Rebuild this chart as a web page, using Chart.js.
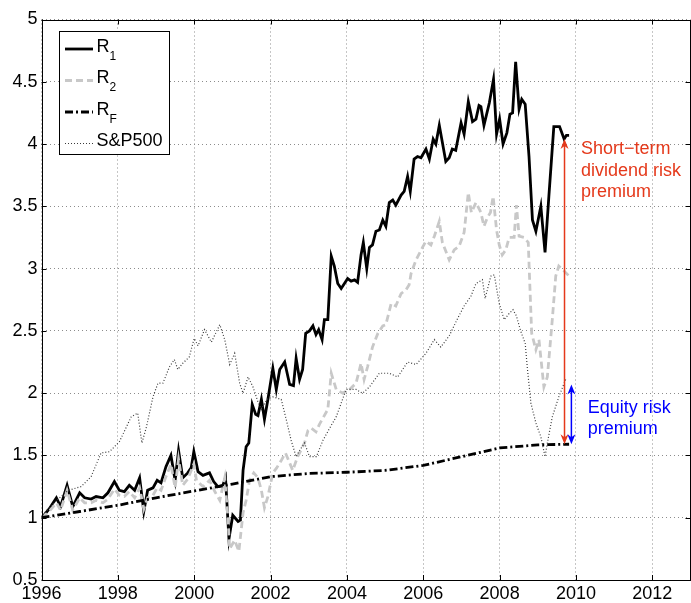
<!DOCTYPE html>
<html lang="en">
<head>
<meta charset="UTF-8">
<title>Dividend and equity risk premia</title>
<script src="https://cdn.jsdelivr.net/npm/chart.js@4.4.1/dist/chart.umd.min.js"></script>
<style>
  body { margin: 0; background: #fff; }
  #wrap { width: 691px; height: 603px; }
</style>
</head>
<body>
<div id="wrap"><canvas id="myChart"></canvas></div>
<script>
// R1: short-term dividend strategy
const r1Years = [1996.00, 1996.04, 1996.20, 1996.39, 1996.50, 1996.67, 1996.82, 1997.00, 1997.13, 1997.30,
  1997.43, 1997.61, 1997.74, 1997.91, 1998.04, 1998.17, 1998.30, 1998.44, 1998.57, 1998.68,
  1998.78, 1998.92, 1999.03, 1999.13, 1999.26, 1999.39, 1999.50, 1999.59, 1999.70, 1999.83,
  1999.92, 1999.99, 2000.10, 2000.23, 2000.40, 2000.51, 2000.62, 2000.75, 2000.82, 2000.91,
  2001.01, 2001.15, 2001.21, 2001.28, 2001.36, 2001.43, 2001.52, 2001.61, 2001.67, 2001.76,
  2001.84, 2001.93, 2002.06, 2002.15, 2002.24, 2002.37, 2002.50, 2002.60, 2002.67, 2002.76,
  2002.84, 2002.92, 2003.02, 2003.11, 2003.19, 2003.26, 2003.35, 2003.41, 2003.50, 2003.59,
  2003.67, 2003.76, 2003.85, 2004.02, 2004.11, 2004.20, 2004.28, 2004.37, 2004.43, 2004.52,
  2004.59, 2004.67, 2004.76, 2004.85, 2004.94, 2005.02, 2005.11, 2005.20, 2005.28, 2005.42,
  2005.50, 2005.59, 2005.66, 2005.76, 2005.85, 2005.94, 2006.07, 2006.16, 2006.26, 2006.33,
  2006.42, 2006.59, 2006.68, 2006.76, 2006.85, 2006.99, 2007.07, 2007.18, 2007.29, 2007.38,
  2007.46, 2007.51, 2007.59, 2007.73, 2007.84, 2007.92, 2008.00, 2008.09, 2008.19, 2008.27,
  2008.34, 2008.42, 2008.51, 2008.58, 2008.67, 2008.77, 2008.86, 2008.95, 2009.08, 2009.19,
  2009.29, 2009.42, 2009.57, 2009.69, 2009.75, 2009.82];
const r1Values = [1.00, 1.01, 1.07, 1.16, 1.09, 1.26, 1.09, 1.20, 1.16, 1.15,
  1.17, 1.16, 1.20, 1.29, 1.22, 1.21, 1.26, 1.22, 1.32, 1.05,
  1.22, 1.24, 1.30, 1.28, 1.41, 1.50, 1.30, 1.54, 1.32, 1.36,
  1.40, 1.53, 1.37, 1.34, 1.36, 1.29, 1.25, 1.26, 1.32, 0.83,
  1.02, 0.97, 0.98, 1.38, 1.57, 1.60, 1.91, 1.83, 1.82, 1.95,
  1.79, 1.95, 2.20, 2.03, 2.19, 2.25, 2.07, 2.06, 2.28, 2.11,
  2.19, 2.48, 2.50, 2.54, 2.47, 2.51, 2.43, 2.59, 2.59, 3.10,
  3.02, 2.88, 2.84, 2.92, 2.90, 2.91, 2.89, 3.11, 3.21, 3.00,
  3.17, 3.19, 3.30, 3.31, 3.39, 3.34, 3.53, 3.55, 3.51, 3.59,
  3.62, 3.74, 3.62, 3.88, 3.90, 3.89, 3.96, 3.88, 4.04, 4.00,
  4.15, 3.86, 3.89, 3.96, 3.95, 4.17, 4.08, 4.34, 4.18, 4.20,
  4.31, 4.30, 4.15, 4.33, 4.52, 4.08, 4.20, 4.00, 4.09, 4.24,
  4.25, 4.66, 4.28, 4.36, 4.32, 3.90, 3.39, 3.30, 3.50, 3.13,
  3.58, 4.14, 4.14, 4.04, 4.07, 4.07];

// R2: long-term dividend strategy
const r2Years = [1996.00, 1996.20, 1996.39, 1996.50, 1996.67, 1996.82, 1997.00, 1997.13, 1997.30, 1997.43,
  1997.61, 1997.74, 1997.91, 1998.04, 1998.17, 1998.30, 1998.44, 1998.57, 1998.68, 1998.78,
  1998.92, 1999.03, 1999.13, 1999.26, 1999.39, 1999.50, 1999.59, 1999.70, 1999.83, 1999.99,
  2000.06, 2000.23, 2000.40, 2000.54, 2000.67, 2000.80, 2000.88, 2000.93, 2001.06, 2001.17,
  2001.28, 2001.36, 2001.45, 2001.56, 2001.67, 2001.76, 2001.84, 2001.93, 2002.06, 2002.16,
  2002.28, 2002.39, 2002.50, 2002.58, 2002.71, 2002.89, 2002.98, 2003.06, 2003.19, 2003.28,
  2003.50, 2003.59, 2003.72, 2003.89, 2004.07, 2004.24, 2004.37, 2004.45, 2004.54, 2004.67,
  2004.81, 2004.94, 2005.02, 2005.16, 2005.28, 2005.42, 2005.55, 2005.63, 2005.68, 2005.81,
  2005.98, 2006.07, 2006.20, 2006.29, 2006.42, 2006.50, 2006.68, 2006.81, 2006.94, 2007.07,
  2007.18, 2007.26, 2007.38, 2007.51, 2007.59, 2007.68, 2007.76, 2007.83, 2007.92, 2007.99,
  2008.07, 2008.16, 2008.25, 2008.38, 2008.44, 2008.51, 2008.64, 2008.75, 2008.79, 2008.84,
  2008.95, 2009.03, 2009.16, 2009.25, 2009.38, 2009.47, 2009.55, 2009.66, 2009.82];
const r2Values = [1.00, 1.05, 1.12, 1.06, 1.22, 1.06, 1.16, 1.12, 1.12, 1.14,
  1.12, 1.15, 1.23, 1.18, 1.17, 1.21, 1.16, 1.24, 1.07, 1.16,
  1.18, 1.24, 1.22, 1.33, 1.43, 1.24, 1.47, 1.26, 1.31, 1.43,
  1.30, 1.25, 1.30, 1.21, 1.14, 1.32, 1.01, 0.75, 0.82, 0.73,
  1.04, 1.14, 1.30, 1.36, 1.32, 1.22, 1.08, 1.17, 1.36, 1.40,
  1.46, 1.52, 1.44, 1.38, 1.49, 1.60, 1.70, 1.72, 1.69, 1.75,
  1.87, 2.16, 2.03, 2.00, 2.03, 2.08, 2.24, 2.11, 2.21, 2.37,
  2.48, 2.54, 2.55, 2.72, 2.70, 2.80, 2.83, 2.87, 2.96, 3.07,
  3.17, 3.22, 3.19, 3.26, 3.38, 3.21, 3.07, 3.15, 3.18, 3.29,
  3.61, 3.45, 3.53, 3.45, 3.34, 3.41, 3.45, 3.58, 3.31, 3.19,
  3.11, 3.15, 3.25, 3.25, 3.51, 3.26, 3.25, 3.21, 2.88, 2.48,
  2.35, 2.43, 2.05, 2.13, 2.59, 2.94, 3.02, 2.99, 2.94];

// RF: risk-free rate
const rfYears = [1996, 1997, 1998, 1999, 2000, 2001, 2002, 2003, 2004, 2005, 2006, 2007, 2008, 2009, 2009.82];
const rfValues = [1.00, 1.05, 1.10, 1.16, 1.215, 1.27, 1.33, 1.355, 1.365, 1.38, 1.42, 1.49, 1.56, 1.585, 1.59];

// S&P500 index
const spYears = [1996.00, 1996.08, 1996.40, 1996.70, 1997.04, 1997.30, 1997.56, 1997.78, 1998.04, 1998.35,
  1998.52, 1998.63, 1998.75, 1998.92, 1999.05, 1999.18, 1999.35, 1999.48, 1999.57, 1999.70,
  1999.87, 2000.00, 2000.10, 2000.27, 2000.45, 2000.67, 2000.80, 2000.93, 2001.06, 2001.19,
  2001.28, 2001.41, 2001.54, 2001.67, 2001.76, 2001.90, 2002.06, 2002.28, 2002.41, 2002.54,
  2002.67, 2002.76, 2002.89, 2003.02, 2003.20, 2003.37, 2003.55, 2003.72, 2003.98, 2004.24,
  2004.41, 2004.59, 2004.85, 2005.11, 2005.33, 2005.59, 2005.81, 2006.07, 2006.29, 2006.46,
  2006.68, 2006.90, 2007.07, 2007.25, 2007.38, 2007.55, 2007.62, 2007.77, 2007.86, 2007.99,
  2008.12, 2008.25, 2008.35, 2008.44, 2008.55, 2008.67, 2008.73, 2008.82, 2008.95, 2009.08,
  2009.19, 2009.25, 2009.38, 2009.55, 2009.73];
const spValues = [1.00, 1.04, 1.14, 1.22, 1.25, 1.33, 1.52, 1.53, 1.61, 1.81,
  1.84, 1.60, 1.73, 1.97, 2.08, 2.08, 2.21, 2.27, 2.19, 2.24,
  2.29, 2.44, 2.38, 2.51, 2.41, 2.55, 2.43, 2.23, 2.32, 2.08,
  2.00, 2.13, 2.05, 1.93, 1.87, 1.95, 1.97, 1.95, 1.79, 1.62,
  1.49, 1.54, 1.60, 1.49, 1.49, 1.62, 1.72, 1.81, 2.03, 2.03,
  2.00, 2.05, 2.16, 2.16, 2.13, 2.25, 2.23, 2.32, 2.43, 2.37,
  2.46, 2.60, 2.70, 2.78, 2.88, 2.91, 2.76, 2.94, 2.95, 2.72,
  2.59, 2.64, 2.67, 2.62, 2.50, 2.40, 2.19, 1.92, 1.76, 1.65,
  1.49, 1.60, 1.81, 1.97, 2.11];

const xTicks = [1996, 1998, 2000, 2002, 2004, 2006, 2008, 2010, 2012];
const yTicks = [0.5, 1, 1.5, 2, 2.5, 3, 3.5, 4, 4.5, 5];

// annotation arrows (data coordinates)
const dividendArrow = { x: 2009.70, from: 4.04, to: 1.59 };
const equityArrow = { x: 2009.88, from: 2.07, to: 1.59 };
const dividendText = ['Short\u2212term', 'dividend risk', 'premium'];
const equityText = ['Equity risk', 'premium'];

const FONT = "'Liberation Sans', Arial, Helvetica, sans-serif";
const RED = '#e5391b';
const BLUE = '#0000ff';

const styles = {
  r1: { color: '#000000', width: 2.8, dash: [] },
  r2: { color: '#c8c8c8', width: 2.8, dash: [7, 4] },
  rf: { color: '#000000', width: 2.8, dash: [8, 3, 2, 3] },
  sp: { color: '#3a3a3a', width: 1.2, dash: [1, 2] }
};

function pts(xs, ys) {
  return xs.map((x, i) => ({ x: x, y: ys[i] }));
}

function lineSet(label, data, st, order) {
  return {
    label: label,
    data: data,
    borderColor: st.color,
    borderWidth: st.width,
    borderDash: st.dash,
    pointRadius: 0,
    tension: 0,
    fill: false,
    order: order
  };
}

function arrowHead(ctx, x, y, dir, color) {
  // dir = -1 points up, 1 points down
  ctx.fillStyle = color;
  ctx.beginPath();
  ctx.moveTo(x, y);
  ctx.lineTo(x - 4, y - dir * 10);
  ctx.lineTo(x, y - dir * 7);
  ctx.lineTo(x + 4, y - dir * 10);
  ctx.closePath();
  ctx.fill();
}

function doubleArrow(ctx, chart, a, color) {
  const xs = chart.scales.x, ys = chart.scales.y;
  const x = xs.getPixelForValue(a.x);
  const y1 = ys.getPixelForValue(a.from);
  const y2 = ys.getPixelForValue(a.to);
  ctx.save();
  ctx.strokeStyle = color;
  ctx.lineWidth = 1.5;
  ctx.beginPath();
  ctx.moveTo(x, y1 + 6);
  ctx.lineTo(x, y2 - 6);
  ctx.stroke();
  arrowHead(ctx, x, y1, -1, color);
  arrowHead(ctx, x, y2, 1, color);
  ctx.restore();
}

const frame = {
  id: 'frame',
  afterDraw: (chart) => {
    const ctx = chart.ctx;
    const a = chart.chartArea;
    const xs = chart.scales.x, ys = chart.scales.y;
    ctx.save();
    ctx.strokeStyle = '#000';
    ctx.lineWidth = 1;
    ctx.strokeRect(Math.round(a.left) + 0.5, Math.round(a.top) + 0.5,
      Math.round(a.right - a.left) - 1, Math.round(a.bottom - a.top) - 1);
    ctx.beginPath();
    xTicks.forEach(v => {
      const px = Math.round(xs.getPixelForValue(v)) + 0.5;
      ctx.moveTo(px, a.bottom); ctx.lineTo(px, a.bottom - 5);
      ctx.moveTo(px, a.top); ctx.lineTo(px, a.top + 5);
    });
    yTicks.forEach(v => {
      const py = Math.round(ys.getPixelForValue(v)) + 0.5;
      ctx.moveTo(a.left, py); ctx.lineTo(a.left + 5, py);
      ctx.moveTo(a.right, py); ctx.lineTo(a.right - 5, py);
    });
    ctx.stroke();

    // arrows + notes
    doubleArrow(ctx, chart, dividendArrow, RED);
    doubleArrow(ctx, chart, equityArrow, BLUE);
    ctx.font = '18px ' + FONT;
    ctx.textBaseline = 'alphabetic';
    ctx.textAlign = 'left';
    ctx.fillStyle = RED;
    let tx = xs.getPixelForValue(2010.13);
    let ty = ys.getPixelForValue(3.92);
    dividendText.forEach((t, i) => ctx.fillText(t, tx, ty + i * 21.5));
    ctx.fillStyle = BLUE;
    tx = xs.getPixelForValue(2010.31);
    ty = ys.getPixelForValue(1.84);
    equityText.forEach((t, i) => ctx.fillText(t, tx, ty + i * 21));

    // legend
    ctx.fillStyle = '#fff';
    ctx.fillRect(59.5, 31.5, 110, 123);
    ctx.strokeStyle = '#000';
    ctx.lineWidth = 1;
    ctx.strokeRect(59.5, 31.5, 110, 123);
    const items = [
      { name: 'R', sub: '1', st: styles.r1, y: 49 },
      { name: 'R', sub: '2', st: styles.r2, y: 80.5 },
      { name: 'R', sub: 'F', st: styles.rf, y: 112 },
      { name: 'S&P500', sub: '', st: styles.sp, y: 143.5 }
    ];
    items.forEach(it => {
      ctx.strokeStyle = it.st.color;
      ctx.lineWidth = it.st.width;
      ctx.setLineDash(it.st.dash);
      ctx.beginPath();
      ctx.moveTo(65, it.y);
      ctx.lineTo(93, it.y);
      ctx.stroke();
      ctx.setLineDash([]);
      ctx.fillStyle = '#000';
      ctx.font = '18px ' + FONT;
      ctx.fillText(it.name, 96.5, it.y + 2.5);
      if (it.sub) {
        const w = ctx.measureText(it.name).width;
        ctx.font = '12px ' + FONT;
        ctx.fillText(it.sub, 96.5 + w, it.y + 10.5);
      }
    });
    ctx.restore();
  }
};

const tickFont = { family: FONT, size: 18 };

const ctx = document.getElementById('myChart');
const myChart = new Chart(ctx, {
  type: 'line',
  data: {
    datasets: [
      lineSet('R1', pts(r1Years, r1Values), styles.r1, 4),
      lineSet('R2', pts(r2Years, r2Values), styles.r2, 3),
      lineSet('RF', pts(rfYears, rfValues), styles.rf, 2),
      lineSet('S&P500', pts(spYears, spValues), styles.sp, 1)
    ]
  },
  options: {
    responsive: true,
    maintainAspectRatio: false,
    animation: false,
    events: [],
    layout: { padding: { top: 19.5, right: 0.5, left: 0, bottom: 0 } },
    plugins: { legend: { display: false }, tooltip: { enabled: false } },
    scales: {
      x: {
        type: 'linear',
        min: 1996,
        max: 2013,
        afterBuildTicks: s => { s.ticks = xTicks.map(v => ({ value: v })); },
        afterFit: s => { s.height = 23; },
        ticks: { callback: v => String(v), font: tickFont, color: '#000', padding: 3, maxRotation: 0, autoSkip: false },
        grid: { color: '#8c8c8c', lineWidth: 1, drawTicks: false },
        border: { display: false, dash: [1, 3] }
      },
      y: {
        type: 'linear',
        min: 0.5,
        max: 5,
        afterBuildTicks: s => { s.ticks = yTicks.map(v => ({ value: v })); },
        afterFit: s => { s.width = 41.5; },
        ticks: { callback: v => String(v), font: tickFont, color: '#000', padding: 4, autoSkip: false },
        grid: { color: '#8c8c8c', lineWidth: 1, drawTicks: false },
        border: { display: false, dash: [1, 3] }
      }
    }
  },
  plugins: [frame]
});
</script>
</body>
</html>
